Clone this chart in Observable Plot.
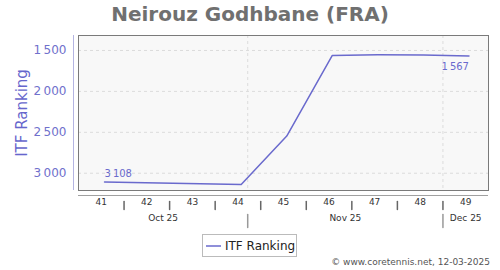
<!DOCTYPE html>
<html><head><meta charset="utf-8">
<script src="https://cdn.jsdelivr.net/npm/d3@7"></script>
<script src="https://cdn.jsdelivr.net/npm/@observablehq/plot@0.6"></script>
<style>
body{margin:0;background:#fff;font-family:"DejaVu Sans",sans-serif;}
#wrap{position:relative;width:500px;height:270px;overflow:hidden;}
#title{position:absolute;left:0;top:0;width:500px;text-align:center;font-weight:bold;font-size:20px;color:#707070;line-height:28px;}
#chart{position:absolute;left:0;top:30px;}
#legend{position:absolute;left:202px;top:234px;width:95px;height:23px;border:1px solid #bbb;box-sizing:border-box;font-size:12px;color:#222;display:flex;align-items:center;background:#fff;}
#legend svg{margin-left:2px;margin-right:3px;}
#caption{position:absolute;right:10px;top:257px;font-size:9px;color:#555;}
</style></head>
<body><div id="wrap">
<div id="title">Neirouz Godhbane (FRA)</div>
<div id="chart"></div>
<div id="legend"><svg width="17" height="10"><line x1="1" x2="16" y1="5" y2="5" stroke="#6a6acd" stroke-width="1.5"/></svg><span>ITF Ranking</span></div>
<div id="caption">© www.coretennis.net, 12-03-2025</div>
</div>
<script>
// ---- data ----
const dates = ["2025-10-10","2025-10-31","2025-11-07","2025-11-14","2025-11-21","2025-11-28","2025-12-05"];
const ranks = [3108, 3139, 2546, 1560, 1552, 1556, 1567];
const weekNumbers = [41, 42, 43, 44, 45, 46, 47, 48, 49];
const weekStarts = ["2025-10-06","2025-10-13","2025-10-20","2025-10-27","2025-11-03","2025-11-10","2025-11-17","2025-11-24","2025-12-01"];
const monthLabels = ["Oct 25", "Nov 25", "Dec 25"];
const monthStarts = ["2025-10-01", "2025-11-01", "2025-12-01", "2026-01-01"];
const yTicks = [1500, 2000, 2500, 3000];
const xDomain = ["2025-10-06", "2025-12-08"];
const yDomain = [1317, 3211];

// ---- build ----
const parse = d3.utcParse("%Y-%m-%d");
const fmt = n => d3.format(",")(n).replace(/,/g, "\u2009");
const data = dates.map((d, i) => ({date: parse(d), rank: ranks[i]}));
const x0 = parse(xDomain[0]), x1 = parse(xDomain[1]);
const DAY = 864e5;
const weeks = weekNumbers.map((w, i) => ({w, mid: new Date(+parse(weekStarts[i]) + 3.5 * DAY)}));
const weekBounds = weekStarts.slice(1).map(parse);
const monthBounds = monthStarts.slice(1, 3).map(parse);
const months = monthLabels.map((m, i) => {
  const a = Math.max(+parse(monthStarts[i]), +x0), b = Math.min(+parse(monthStarts[i + 1]), +x1);
  return {m, mid: new Date((a + b) / 2)};
});
const lineShape = {draw(ctx, l) { ctx.moveTo(0, 0); ctx.lineTo(0, -l); }};
const purple = "#6a6acd";

const chart = Plot.plot({
  width: 500, height: 200,
  marginTop: 5, marginBottom: 40, marginLeft: 78, marginRight: 12,
  style: {fontFamily: "DejaVu Sans, sans-serif", background: "transparent", overflow: "visible"},
  x: {type: "utc", domain: [x0, x1], axis: null},
  y: {domain: yDomain, reverse: true, axis: null},
  marks: [
    Plot.frame({fill: "#f8f8f8", stroke: null}),
    Plot.gridY(yTicks, {stroke: "#dcdcdc", strokeOpacity: 1, strokeDasharray: "3,3"}),
    Plot.ruleX(monthBounds, {stroke: "#dcdcdc", strokeDasharray: "3,3"}),
    Plot.frame({stroke: "#7a7a7a"}),
    Plot.ruleX([x0], {dx: -5, stroke: "#b4b4e2"}),
    Plot.ruleY([yDomain[1]], {dy: 5, stroke: "#a0a0a0"}),
    Plot.lineY(data, {x: "date", y: "rank", stroke: purple, strokeWidth: 1.5}),
    Plot.text([data[0]], {x: "date", y: "rank", text: d => fmt(d.rank), textAnchor: "start", dy: -8, fill: purple, fontSize: 10}),
    Plot.text([data[data.length - 1]], {x: "date", y: "rank", text: d => fmt(d.rank), textAnchor: "end", dy: 11, fill: purple, fontSize: 10}),
    Plot.axisY(yTicks, {tickSize: 0, tickPadding: 12, tickFormat: fmt, fill: "#7070cc", fontSize: 12, label: null}),
    Plot.text(["ITF Ranking"], {frameAnchor: "left", textAnchor: "middle", dx: -56, rotate: -90, fill: "#6666cc", fontSize: 15}),
    Plot.text(weeks, {x: "mid", text: "w", frameAnchor: "bottom", dy: 14, fill: "#333", fontSize: 9}),
    Plot.vector(weekBounds, {x: Plot.identity, frameAnchor: "bottom", dy: 11, length: 8, rotate: 180, anchor: "start", shape: lineShape, stroke: "#666"}),
    Plot.vector(monthBounds, {x: Plot.identity, frameAnchor: "bottom", dy: 24, length: 13, rotate: 180, anchor: "start", shape: lineShape, stroke: "#999"}),
    Plot.text(months, {x: "mid", text: "m", frameAnchor: "bottom", dy: 30.5, fill: "#333", fontSize: 9})
  ]
});
document.getElementById("chart").appendChild(chart);
</script>
</body></html>
